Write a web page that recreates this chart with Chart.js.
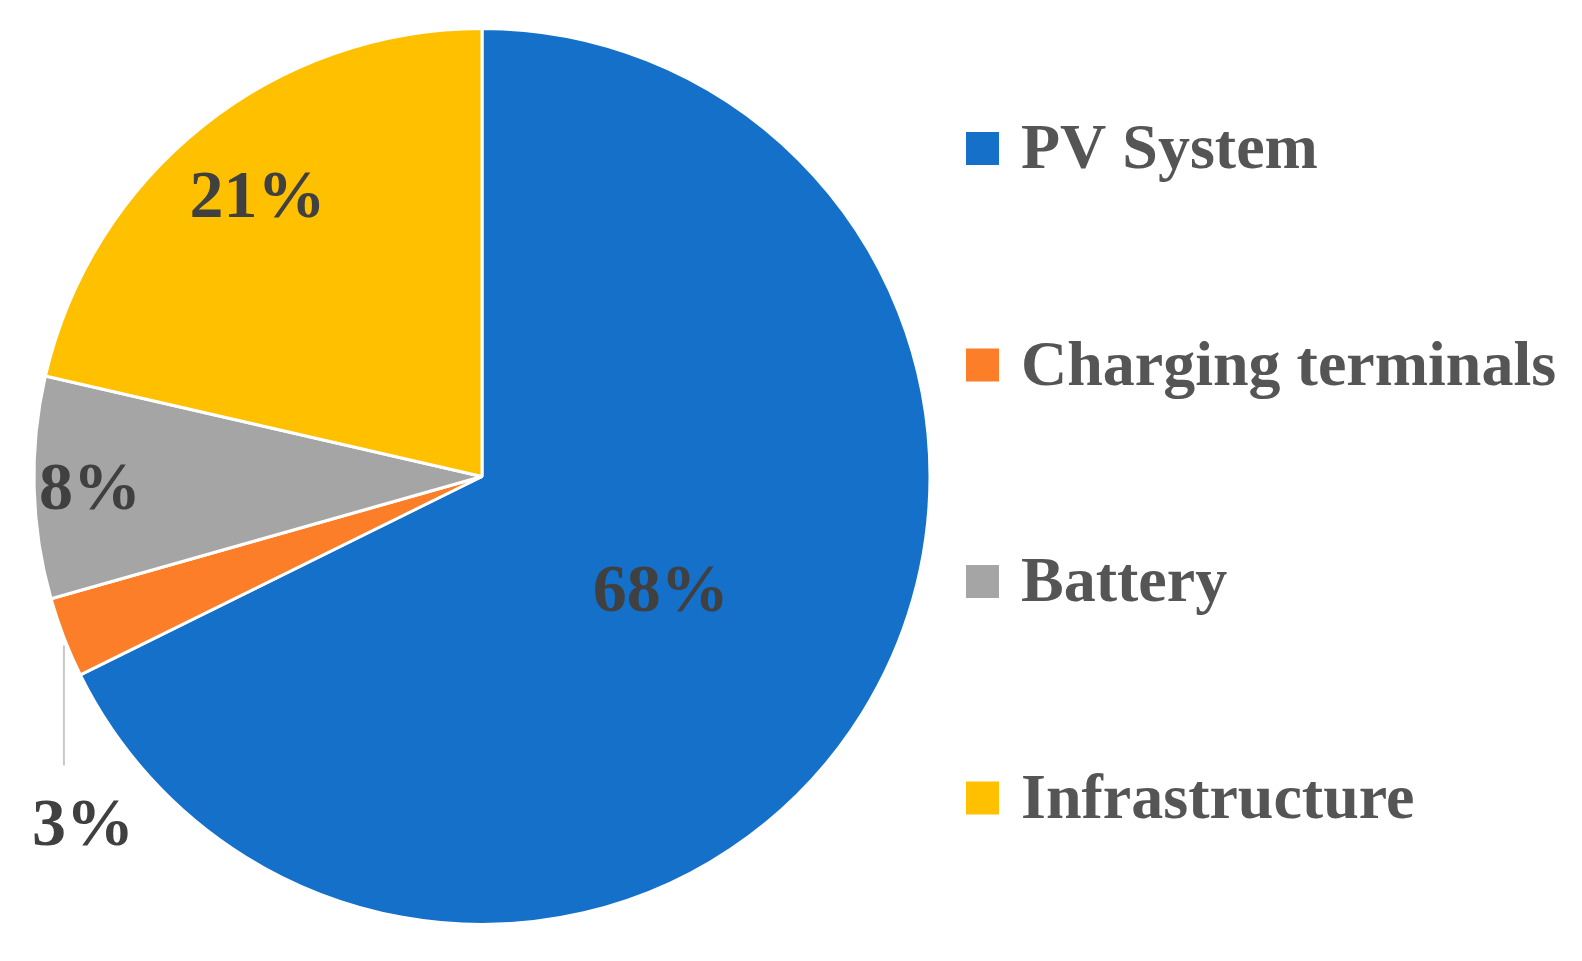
<!DOCTYPE html>
<html>
<head>
<meta charset="utf-8">
<script src="https://cdn.jsdelivr.net/npm/chart.js@4.4.1/dist/chart.umd.min.js"></script>
<style>
  html, body { margin: 0; padding: 0; background: #fff; }
  #wrap { width: 1582px; height: 961px; position: relative; }
</style>
</head>
<body>
<div id="wrap"><canvas id="pie" width="1582" height="961"></canvas></div>
<script>
// values (shares of total cost, %)
const categories = ["PV System", "Charging terminals", "Battery", "Infrastructure"];
const shares = [67.7, 2.9, 8.0, 21.4];
const sliceColors = ["#1570c9", "#fd7e28", "#a5a5a5", "#ffc000"];

const labelFont = 'bold 68px "Liberation Serif", "DejaVu Serif", serif';
const legendFont = 'bold 64px "Liberation Serif", "DejaVu Serif", serif';

// where each percentage label sits, as a fraction of the radius (null = outside with leader)
const labelRadius = [0.47, null, 0.875, 0.805];

const pctLabels = {
  id: "pctLabels",
  afterDatasetsDraw(chart) {
    const ctx = chart.ctx;
    const meta = chart.getDatasetMeta(0);
    const total = shares.reduce((a, b) => a + b, 0);
    ctx.save();
    ctx.font = labelFont;
    ctx.fillStyle = "#404040";
    ctx.textAlign = "center";
    ctx.textBaseline = "alphabetic";
    meta.data.forEach((arc, i) => {
      const { x, y, startAngle, endAngle, outerRadius } = arc.getProps(
        ["x", "y", "startAngle", "endAngle", "outerRadius"], true);
      const mid = (startAngle + endAngle) / 2;
      const text = Math.round((shares[i] / total) * 100) + "%";
      if (labelRadius[i] === null) {
        // leader line straight down from the slice edge
        const lx = x + Math.cos(mid) * outerRadius;
        const ly = y + Math.sin(mid) * outerRadius + 8;
        ctx.strokeStyle = "#c8c8c8";
        ctx.lineWidth = 2;
        ctx.beginPath();
        ctx.moveTo(lx, ly);
        ctx.lineTo(lx, ly + 120);
        ctx.stroke();
        ctx.fillText(text, lx + 19, ly + 120 + 80);
      } else {
        const r = outerRadius * labelRadius[i];
        ctx.fillText(text, x + Math.cos(mid) * r, y + Math.sin(mid) * r + 23);
      }
    });
    ctx.restore();
  }
};

const sideLegend = {
  id: "sideLegend",
  afterDraw(chart) {
    const ctx = chart.ctx;
    const area = chart.chartArea;
    const left = area.right + 34;
    const firstY = 148;
    const step = 216.5;
    ctx.save();
    ctx.font = legendFont;
    ctx.textBaseline = "alphabetic";
    ctx.textAlign = "left";
    chart.data.labels.forEach((lab, i) => {
      const cy = firstY + i * step;
      ctx.fillStyle = chart.data.datasets[0].backgroundColor[i];
      ctx.fillRect(left, cy - 16, 33, 33);
      ctx.fillStyle = "#555555";
      ctx.fillText(lab, left + 55, cy + 20);
    });
    ctx.restore();
  }
};

new Chart(document.getElementById("pie"), {
  type: "pie",
  data: {
    labels: categories,
    datasets: [{
      data: shares,
      backgroundColor: sliceColors,
      borderColor: "#ffffff",
      borderWidth: 3
    }]
  },
  options: {
    responsive: false,
    animation: false,
    layout: { padding: { left: 32, top: 27, right: 650, bottom: 35 } },
    plugins: {
      legend: { display: false },
      tooltip: { enabled: false }
    }
  },
  plugins: [pctLabels, sideLegend]
});
</script>
</body>
</html>
